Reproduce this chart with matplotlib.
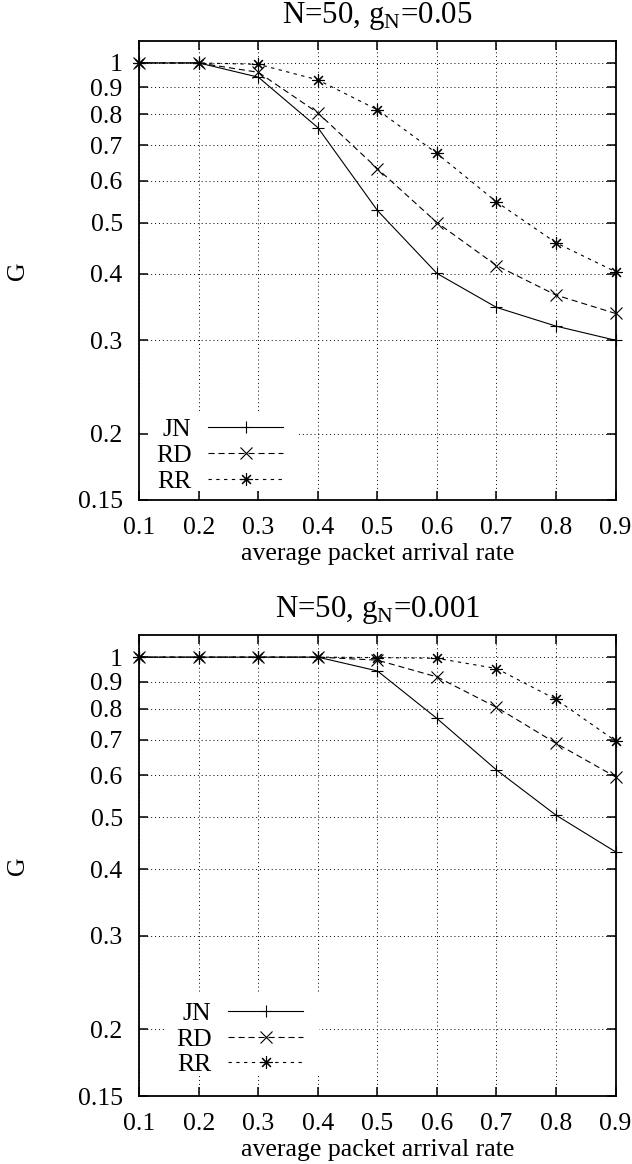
import numpy as np
import matplotlib
matplotlib.use('Agg')
import matplotlib.pyplot as plt
from matplotlib.patches import Rectangle

plt.rcParams['font.family'] = ['Liberation Serif', 'DejaVu Serif']
plt.rcParams['mathtext.fontset'] = 'custom'
plt.rcParams['mathtext.rm'] = 'Liberation Serif'
plt.rcParams['font.size'] = 18.5

# データ
x = [0.1, 0.2, 0.3, 0.4, 0.5, 0.6, 0.7, 0.8, 0.9]

# g_N = 0.05
top_jn = [1.0, 1.0, 0.94, 0.755, 0.527, 0.401, 0.346, 0.319, 0.300]
top_rd = [1.0, 1.0, 0.96, 0.805, 0.632, 0.500, 0.415, 0.365, 0.337]
top_rr = [1.0, 1.0, 0.994, 0.929, 0.816, 0.675, 0.547, 0.458, 0.404]

# g_N = 0.001
bot_jn = [1.0, 1.0, 1.0, 1.0, 0.942, 0.767, 0.614, 0.505, 0.431]
bot_rd = [1.0, 1.0, 1.0, 1.0, 0.987, 0.918, 0.805, 0.689, 0.596]
bot_rr = [1.0, 1.0, 1.0, 1.0, 0.998, 0.995, 0.952, 0.833, 0.696]

titles = [r'N=50, g$_{\rm N}$=0.05', r'N=50, g$_{\rm N}$=0.001']
labels = ['JN', 'RD', 'RR']

xticks = [0.1, 0.2, 0.3, 0.4, 0.5, 0.6, 0.7, 0.8, 0.9]
yticks = [0.15, 0.2, 0.3, 0.4, 0.5, 0.6, 0.7, 0.8, 0.9, 1.0]
ytick_labels = ['0.15', '0.2', '0.3', '0.4', '0.5', '0.6', '0.7', '0.8', '0.9', '1']

styles = [
    dict(ls='-', marker='+', ms=8),
    dict(ls=(0, (5.5, 3.5)), marker='x', ms=9),
    dict(ls=(0, (3, 4)), marker=(8, 2, 0), ms=9),
]

fig = plt.figure(figsize=(6.32, 11.64), dpi=100)
ax_top = fig.add_axes([0.2204, 0.5705, 0.7536, 0.3943])
ax_bot = fig.add_axes([0.2204, 0.0584, 0.7536, 0.3960])

# (軸, データ, 凡例の位置, 凡例の白い背景 [x, y, w, h])
panels = [
    (ax_top, [top_jn, top_rd, top_rr], (0.035, 0.016), (0.0, 0.022, 0.33, 0.17)),
    (ax_bot, [bot_jn, bot_rd, bot_rr], (0.077, 0.043), (0.057, 0.046, 0.32, 0.178)),
]

for i, (ax, series, leg_pos, box) in enumerate(panels):
    ax.set_yscale('log')
    ax.set_axisbelow(False)

    # グリッド
    for v in yticks:
        ax.axhline(v, color='k', ls=(0, (1, 3)), lw=0.7, zorder=1)
    for v in xticks:
        ax.axvline(v, color='k', ls=(0, (1, 3)), lw=0.7, zorder=1)

    for y, lab, st in zip(series, labels, styles):
        ax.plot(x, y, color='k', lw=0.8, mew=0.8, label=lab, clip_on=False,
                zorder=2, **st)

    ax.set_xlim(0.1, 0.9)
    ax.set_ylim(0.15, 1.1)
    ax.set_xticks(xticks, [str(v) for v in xticks])
    ax.set_yticks(yticks, ytick_labels)
    ax.minorticks_off()
    ax.tick_params(direction='in', length=6.8, width=1.1, top=True, right=True)
    ax.tick_params(axis='x', pad=12)
    ax.tick_params(axis='y', pad=12)
    for s in ax.spines.values():
        s.set_linewidth(1.3)

    ax.set_title(titles[i], pad=13)
    ax.set_xlabel('average packet arrival rate', labelpad=3)
    ax.set_ylabel('G')
    ax.yaxis.set_label_coords(-0.232, 0.5)

    # 凡例の下のグリッドを隠す
    ax.add_patch(Rectangle(box[:2], box[2], box[3], transform=ax.transAxes,
                           facecolor='white', edgecolor='none', zorder=1.5))
    ax.legend(loc='lower left', bbox_to_anchor=leg_pos, borderaxespad=0,
              borderpad=0, markerfirst=False, handlelength=2.9,
              handletextpad=0.65, labelspacing=0.1, frameon=False)

plt.savefig('out.png', dpi=100)
